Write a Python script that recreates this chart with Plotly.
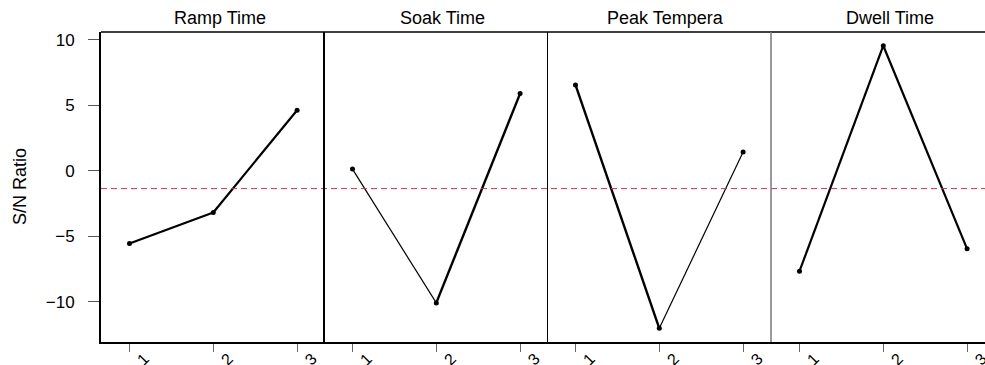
import plotly.graph_objects as go

# Main-effects plot of S/N ratio for four reflow-profile factors
factors = ["Ramp Time", "Soak Time", "Peak Tempera", "Dwell Time"]
levels = [1, 2, 3]
tick_labels = ["1", "2", "3"]
ramp_time = [-5.56, -3.19, 4.63]
soak_time = [0.13, -10.10, 5.90]
peak_temp = [6.56, -12.04, 1.43]
dwell_time = [-7.68, 9.56, -5.97]
series = [ramp_time, soak_time, peak_temp, dwell_time]

# stroke widths of the two segments in each panel
seg_widths = [[2.2, 2.2], [1.2, 2.4], [2.4, 1.2], [2.2, 2.2]]

grand_mean = sum(ramp_time + soak_time + peak_temp + dwell_time) / 12.0

W, H = 985, 365
left, top, bottom = 101, 32, 23
plot_w = W - left
edges_px = [101, 324, 547, 771, 985]
px_per_unit = 83.8
x_start = 0.66

fig = go.Figure()
font = "Liberation Sans, Arial, sans-serif"

for k, (name, vals) in enumerate(zip(factors, series)):
    ax = "x" if k == 0 else f"x{k+1}"
    for i in range(len(levels) - 1):
        fig.add_trace(go.Scatter(
            x=levels[i:i + 2], y=vals[i:i + 2], mode="lines",
            line=dict(color="black", width=seg_widths[k][i]),
            xaxis=ax, yaxis="y", showlegend=False, hoverinfo="skip"))
    fig.add_trace(go.Scatter(
        x=levels, y=vals, mode="markers",
        marker=dict(color="black", size=5),
        xaxis=ax, yaxis="y", showlegend=False, name=name))

    d0 = (edges_px[k] - left) / plot_w
    d1 = (edges_px[k + 1] - left) / plot_w
    width_units = (edges_px[k + 1] - edges_px[k]) / px_per_unit
    key = "xaxis" if k == 0 else f"xaxis{k+1}"
    fig.layout[key] = dict(
        domain=[d0, d1], range=[x_start, x_start + width_units],
        anchor="y", tickvals=levels, ticktext=tick_labels,
        ticks="outside", ticklen=8, tickwidth=1, tickcolor="#666",
        tickangle=-45, ticklabelshift=15, ticklabelstandoff=-9,
        ticklabeloverflow="allow",
        tickfont=dict(family=font, size=16, color="black"),
        showline=True, linecolor="black", linewidth=2,
        showgrid=False, zeroline=False, automargin=False, fixedrange=True)

    # panel title, centred over the full panel width
    fig.add_annotation(
        text=name, xref=ax, yref="paper",
        x=x_start + (edges_px[1] - edges_px[0]) / px_per_unit / 2 + 7 / px_per_unit,
        y=1, yanchor="bottom", yshift=2, showarrow=False,
        font=dict(family=font, size=18, color="black"))

fig.update_layout(
    width=W, height=H,
    margin=dict(l=left, r=0, t=top, b=bottom),
    paper_bgcolor="white", plot_bgcolor="white",
    template="none",
    yaxis=dict(
        range=[-13.09, 10.61], tickvals=[-10, -5, 0, 5, 10],
        ticks="outside", ticklen=11, tickwidth=1, tickcolor="#555",
        ticklabelstandoff=10,
        tickfont=dict(family=font, size=17, color="black"),
        showline=True, linecolor="black", linewidth=2,
        showgrid=False, zeroline=False, automargin=False,
        anchor="x", fixedrange=True),
)

# y-axis title
fig.add_annotation(
    text="S/N Ratio", xref="paper", yref="paper",
    x=(8 - left) / plot_w, y=0.5, textangle=-90, showarrow=False,
    font=dict(family=font, size=18, color="black"))

# grand-mean reference line across all panels
fig.add_shape(type="line", xref="paper", yref="y", x0=0, x1=1,
              y0=grand_mean, y1=grand_mean,
              line=dict(color="#cc3355", width=1, dash="6px,4px"))

# panel frame: top border and separators
fig.add_shape(type="line", xref="paper", yref="paper", x0=0, x1=1, y0=1, y1=1,
              line=dict(color="black", width=1.5))
sep_styles = [(324, "black", 2), (547.5, "black", 1), (771, "#777", 1.5)]
for e, c, w in sep_styles:
    xf = (e - left) / plot_w
    fig.add_shape(type="line", xref="paper", yref="paper", x0=xf, x1=xf,
                  y0=0, y1=1, line=dict(color=c, width=w))

fig.write_html("out.html")
